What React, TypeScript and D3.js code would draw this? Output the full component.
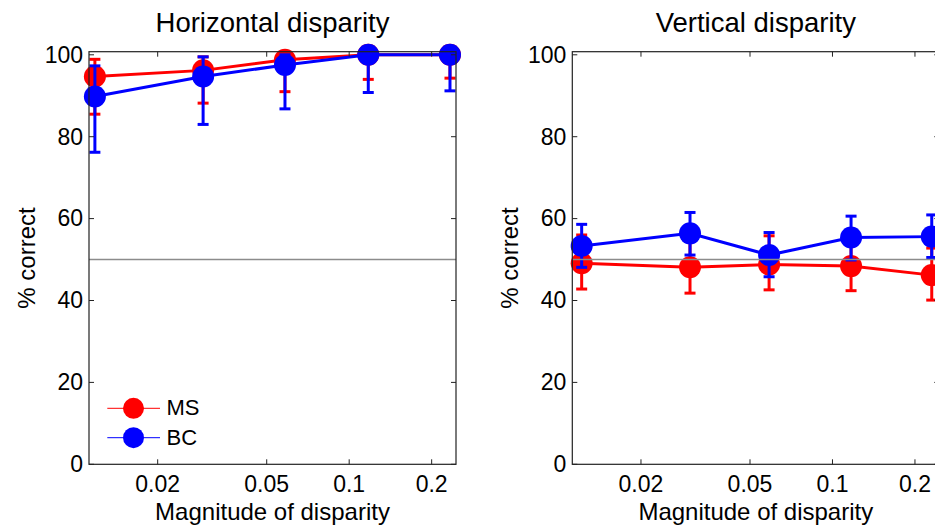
import React from "react";
import * as d3 from "d3";

// ---------- data ----------
const xTicks = [0.02, 0.05, 0.1, 0.2];
const yTicks = [0, 20, 40, 60, 80, 100];

const hX = [0.0118, 0.0293, 0.0583, 0.1174, 0.2333];
const hMS = [94.7, 96.2, 98.8, 100, 100];
const hMSLow = [85.5, 88.2, 91.0, 94.0, 94.3];
const hMSHigh = [98.9, 99.5, 100, 100, 100];
const hBC = [89.8, 94.7, 97.5, 100, 100];
const hBCLow = [76.2, 83.0, 86.8, 90.8, 91.2];
const hBCHigh = [97.3, 99.5, 100, 100, 100];

const vX = [0.01215, 0.0302, 0.0587, 0.1169, 0.2303];
const vMS = [49.1, 48.1, 48.8, 48.4, 46.2];
const vMSLow = [42.8, 41.8, 42.6, 42.4, 40.1];
const vMSHigh = [56.0, 54.5, 55.8, 54.5, 52.8];
const vBC = [53.3, 56.4, 51.1, 55.4, 55.6];
const vBCLow = [48.1, 51.1, 45.8, 49.9, 50.5];
const vBCHigh = [58.6, 61.5, 56.6, 60.6, 60.9];

const chanceLevel = 50;
const seriesNames = ["MS", "BC"];
const seriesColors = ["#ff0000", "#0000ff"];

const FONT = "'Liberation Sans', Arial, Helvetica, sans-serif";

type Series = { x: number[]; y: number[]; lo: number[]; hi: number[]; color: string };

function Panel({ left, title, series, showLegend }: { left: number; title: string; series: Series[]; showLegend: boolean }) {
  const top = 51.7;
  const bottom = 464.3;
  const width = 367;
  const x = d3.scaleLog().domain([0.01123, 0.2454]).range([left, left + width]);
  const y = d3.scaleLinear().domain([0, 100.76]).range([bottom, top]);
  const right = left + width;
  const tickLen = 5;
  const line = d3.line<number>();
  const cap = 5.5;

  return (
    <g>
      <text x={(left + right) / 2} y={32} textAnchor="middle" fontFamily={FONT} fontSize={27.5} fill="#000">
        {title}
      </text>
      {series.map((s, si) => {
        const pts: [number, number][] = s.x.map((xv, i) => [x(xv), y(s.y[i])]);
        return (
          <g key={si}>
            {s.x.map((xv, i) => {
              const cx = x(xv);
              const yl = y(s.lo[i]);
              const yh = y(s.hi[i]);
              return (
                <g key={i} stroke={s.color} strokeWidth={3} fill="none">
                  <line x1={cx} x2={cx} y1={yl} y2={yh} />
                  <line x1={cx - cap} x2={cx + cap} y1={yl} y2={yl} />
                  <line x1={cx - cap} x2={cx + cap} y1={yh} y2={yh} />
                </g>
              );
            })}
            <path d={line(pts as any) || ""} stroke={s.color} strokeWidth={3} fill="none" />
            {pts.map((p, i) => (
              <circle key={i} cx={p[0]} cy={p[1]} r={11} fill={s.color} />
            ))}
          </g>
        );
      })}
      <line x1={left} x2={right} y1={y(chanceLevel)} y2={y(chanceLevel)} stroke="#8c8c8c" strokeWidth={1.5} />
      {/* axes box */}
      <rect x={left} y={top} width={width} height={bottom - top} fill="none" stroke="#222" strokeWidth={1.2} />
      {xTicks.map((t) => (
        <g key={t}>
          <line x1={x(t)} x2={x(t)} y1={bottom} y2={bottom - tickLen} stroke="#222" strokeWidth={1} />
          <line x1={x(t)} x2={x(t)} y1={top} y2={top + tickLen} stroke="#222" strokeWidth={1} />
          <text x={x(t)} y={492} textAnchor="middle" fontFamily={FONT} fontSize={23} fill="#000">
            {String(t)}
          </text>
        </g>
      ))}
      {yTicks.map((t) => (
        <g key={t}>
          <line x1={left} x2={left + tickLen} y1={y(t)} y2={y(t)} stroke="#222" strokeWidth={1} />
          <line x1={right} x2={right - tickLen} y1={y(t)} y2={y(t)} stroke="#222" strokeWidth={1} />
          <text x={left - 6} y={y(t) + 7.8} textAnchor="end" fontFamily={FONT} fontSize={23} fill="#000">
            {String(t)}
          </text>
        </g>
      ))}
      <text x={(left + right) / 2} y={519.5} textAnchor="middle" fontFamily={FONT} fontSize={24} fill="#000">
        Magnitude of disparity
      </text>
      <text
        transform={`translate(${left - 54},${(top + bottom) / 2}) rotate(-90)`}
        textAnchor="middle"
        fontFamily={FONT}
        fontSize={24}
        fill="#000"
      >
        % correct
      </text>
      {showLegend &&
        seriesNames.map((name, i) => {
          const ly = 408.3 + i * 29.4;
          return (
            <g key={name}>
              <line x1={107.3} x2={160} y1={ly} y2={ly} stroke={seriesColors[i]} strokeWidth={1} />
              <circle cx={133.5} cy={ly} r={10.5} fill={seriesColors[i]} />
              <text x={166.5} y={ly + 7} fontFamily={FONT} fontSize={22} fill="#000">
                {name}
              </text>
            </g>
          );
        })}
    </g>
  );
}

export default function App() {
  const hSeries: Series[] = [
    { x: hX, y: hMS, lo: hMSLow, hi: hMSHigh, color: seriesColors[0] },
    { x: hX, y: hBC, lo: hBCLow, hi: hBCHigh, color: seriesColors[1] },
  ];
  const vSeries: Series[] = [
    { x: vX, y: vMS, lo: vMSLow, hi: vMSHigh, color: seriesColors[0] },
    { x: vX, y: vBC, lo: vBCLow, hi: vBCHigh, color: seriesColors[1] },
  ];
  return (
    <svg
      width={935}
      height={525}
      style={{ position: "absolute", left: 0, top: 0, background: "#fff" }}
    >
      <rect x={0} y={0} width={935} height={525} fill="#fff" />
      <Panel left={89} title="Horizontal disparity" series={hSeries} showLegend={true} />
      <Panel left={572.3} title="Vertical disparity" series={vSeries} showLegend={false} />
    </svg>
  );
}
